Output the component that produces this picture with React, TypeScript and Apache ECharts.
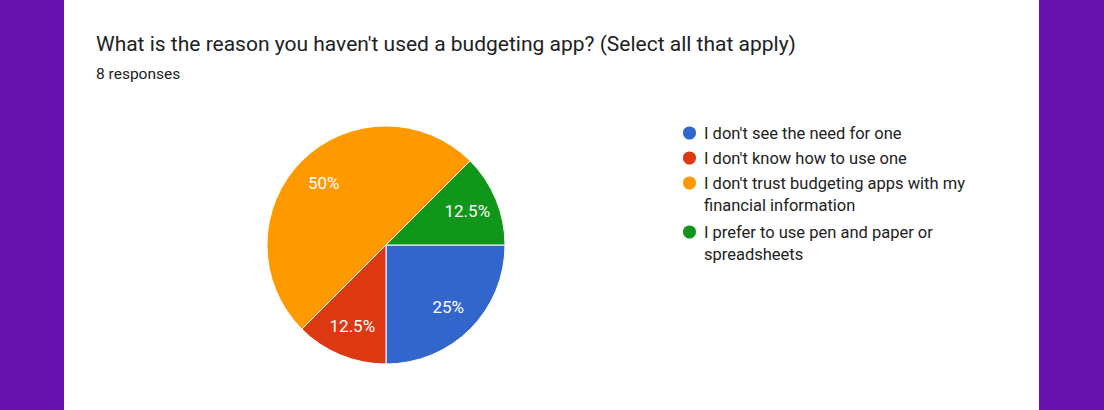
import React, { useEffect, useRef } from "react";
import * as echarts from "echarts";

const titleText = "What is the reason you haven't used a budgeting app? (Select all that apply)";
const subtitleText = "8 responses";
const categories = [
  "I don't see the need for one",
  "I don't know how to use one",
  "I don't trust budgeting apps with my financial information",
  "I prefer to use pen and paper or spreadsheets",
];
const legendLines = [
  ["I don't see the need for one"],
  ["I don't know how to use one"],
  ["I don't trust budgeting apps with my", "financial information"],
  ["I prefer to use pen and paper or", "spreadsheets"],
];
const values = [2, 1, 4, 1];
const colors = ["#3366cc", "#dc3912", "#ff9900", "#109618"];

export default function App() {
  const ref = useRef<HTMLDivElement>(null);
  useEffect(() => {
    if (!ref.current) return;
    const chart = echarts.init(ref.current, null, { renderer: "svg" });
    const data = categories.map((name, i) => ({ name, value: values[i], itemStyle: { color: colors[i] } }));
    const legendTops = [122, 147, 150, 199];
    const legends = categories.map((name, i) => ({
      orient: "vertical",
      left: 681,
      top: legendTops[i],
      padding: 0,
      icon: "circle",
      itemWidth: 15,
      itemHeight: 15,
      itemGap: 6,
      selectedMode: false,
      data: [{ name, itemStyle: { color: colors[i] } }],
      formatter: () => (legendLines[i].length > 1 ? "\n" : "") + legendLines[i].join("\n"),
      textStyle: { fontFamily: "Roboto", fontSize: 16.5, color: "#222222", lineHeight: 22, padding: [0, 0, 0, 2] },
    }));
    chart.setOption({
      animation: false,
      backgroundColor: "#6411ad",
      graphic: [
        { type: "rect", z: -10, shape: { x: 64, y: 0, width: 975, height: 410 }, style: { fill: "#ffffff" }, silent: true },
      ],
      title: [
        { text: titleText, left: 96, top: 33, padding: 0, textStyle: { fontFamily: "Roboto", fontSize: 21, fontWeight: "normal", color: "#202124" } },
        { text: subtitleText, left: 96, top: 66, padding: 0, textStyle: { fontFamily: "Roboto", fontSize: 15.5, fontWeight: "normal", color: "#202124" } },
      ],
      legend: legends,
      series: [
        {
          type: "pie",
          center: [386, 245],
          radius: [0, 119],
          startAngle: 0,
          clockwise: true,
          silent: true,
          label: { show: false },
          labelLine: { show: false },
          itemStyle: { borderColor: "#ffffff", borderWidth: 1 },
          data,
        },
        {
          type: "pie",
          center: [386, 245],
          radius: [0, 170],
          startAngle: 0,
          clockwise: true,
          silent: true,
          z: 5,
          avoidLabelOverlap: false,
          itemStyle: { color: "transparent", borderWidth: 0 },
          label: { show: true, position: "inside", formatter: "{d}%", color: "#ffffff", fontFamily: "Roboto", fontSize: 17 },
          labelLine: { show: false },
          emphasis: { disabled: true },
          data: categories.map((name, i) => ({ name, value: values[i], itemStyle: { color: "transparent" } })),
        },
      ],
    });
    return () => chart.dispose();
  }, []);
  return <div ref={ref} style={{ position: "fixed", left: 0, top: 0, width: 1104, height: 410 }} />;
}
